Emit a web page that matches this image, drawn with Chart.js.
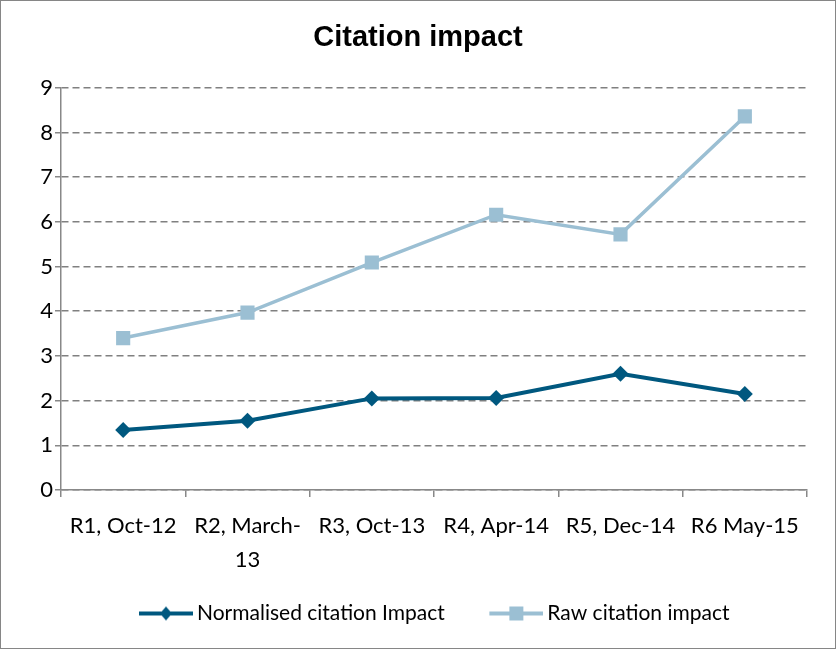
<!DOCTYPE html>
<html>
<head>
<meta charset="utf-8">
<script src="https://cdn.jsdelivr.net/npm/chart.js@4.4.1/dist/chart.umd.min.js"></script>
<style>
  html, body { margin: 0; padding: 0; background: #fff; }
  #wrap { width: 836px; height: 649px; position: relative; }
</style>
</head>
<body>
<div id="wrap"><canvas id="chart" width="836" height="649"></canvas></div>
<script>
var categories = ["R1, Oct-12", ["R2, March-", "13"], "R3, Oct-13", "R4, Apr-14", "R5, Dec-14", "R6 May-15"];
var normalised = [1.34, 1.55, 2.05, 2.06, 2.60, 2.15];
var raw = [3.40, 3.97, 5.09, 6.16, 5.72, 8.36];
var yTicks = [0, 1, 2, 3, 4, 5, 6, 7, 8, 9];

var darkBlue = "#00587F";
var lightBlue = "#9BBFD3";

// legend swatch: short line with the marker, sitting at the right end of a
// wider transparent image so the legend items get more room between them
function swatch(color, shape) {
	var c = document.createElement("canvas");
	c.width = 93; c.height = 16;
	var g = c.getContext("2d");
	g.strokeStyle = color;
	g.lineWidth = 4;
	g.beginPath(); g.moveTo(39, 8); g.lineTo(93, 8); g.stroke();
	g.fillStyle = color;
	if (shape === "diamond") {
		g.beginPath(); g.moveTo(66, 1); g.lineTo(72, 8); g.lineTo(66, 15); g.lineTo(60, 8); g.closePath(); g.fill();
	} else {
		g.fillRect(59, 1, 14, 14);
	}
	return c;
}

var frame = {
	id: "frame",
	beforeDraw: function (chart) {
		var ctx = chart.ctx;
		ctx.save();
		ctx.fillStyle = "#fff";
		ctx.fillRect(0, 0, chart.width, chart.height);
		ctx.restore();
	},
	afterDraw: function (chart) {
		var ctx = chart.ctx;
		ctx.save();
		ctx.strokeStyle = "#868686";
		ctx.lineWidth = 1;
		ctx.strokeRect(0.5, 0.5, chart.width - 1, chart.height - 1);
		ctx.restore();
	}
};

var ctx = document.getElementById("chart");

var chart = new Chart(ctx, {
	type: "line",
	data: {
		labels: categories,
		datasets: [
			{
				label: "Normalised citation Impact",
				data: normalised,
				borderColor: darkBlue,
				backgroundColor: darkBlue,
				borderWidth: 4,
				pointStyle: "rectRot",
				pointRadius: 8,
				pointBorderWidth: 0,
				tension: 0
			},
			{
				label: "Raw citation impact",
				data: raw,
				borderColor: lightBlue,
				backgroundColor: lightBlue,
				borderWidth: 3.5,
				pointStyle: "rect",
				pointRadius: 10,
				pointBorderWidth: 0,
				tension: 0
			}
		]
	},
	options: {
		responsive: false,
		animation: false,
		layout: { padding: { left: 0, right: 0, top: 0, bottom: 15 } },
		plugins: {
			title: {
				display: true,
				text: "Citation impact",
				font: { family: "Liberation Sans", size: 29, weight: "bold" },
				color: "#000",
				padding: { top: 21, bottom: 32 }
			},
			legend: {
				display: true,
				position: "bottom",
				labels: {
					usePointStyle: true,
					pointStyleWidth: 80,
					padding: 12,
					color: "#000",
					font: { family: "Lato", size: 21 },
					generateLabels: function (ch) {
						return [
							{ text: "Normalised citation Impact", pointStyle: swatch(darkBlue, "diamond"), datasetIndex: 0, fontColor: "#000", lineWidth: 0, strokeStyle: darkBlue, fillStyle: darkBlue },
							{ text: "Raw citation impact", pointStyle: swatch(lightBlue, "square"), datasetIndex: 1, fontColor: "#000", lineWidth: 0, strokeStyle: lightBlue, fillStyle: lightBlue }
						];
					}
				}
			},
			tooltip: { enabled: false }
		},
		scales: {
			x: {
				offset: true,
				grid: { display: true, drawOnChartArea: false, offset: true, tickLength: 7, color: "#888", lineWidth: 1.5 },
				border: { display: true, color: "#888", width: 1.5 },
				ticks: {
					color: "#000",
					font: { family: "Lato", size: 22, lineHeight: 1.55 },
					padding: 12,
					maxRotation: 0,
					autoSkip: false
				},
				afterFit: function (scale) { scale.height = 101; }
			},
			y: {
				min: 0,
				max: 9,
				afterBuildTicks: function (scale) {
					scale.ticks = yTicks.map(function (v) { return { value: v }; });
				},
				grid: {
					color: "#808080",
					lineWidth: 1.5,
					tickLength: 6,
					tickColor: "#888",
					tickWidth: 1.5
				},
				border: { display: true, color: "#888", width: 1.5, dash: [7, 4] },
				ticks: {
					color: "#000",
					font: { family: "Lato", size: 22 },
					padding: 2
				},
				afterFit: function (scale) { scale.width = 61; }
			},
			// empty right-hand axis, only reserves the margin right of the plot
			yRight: {
				position: "right",
				display: true,
				min: 0,
				max: 9,
				grid: { display: false, drawOnChartArea: false },
				border: { display: false },
				ticks: { display: false },
				afterFit: function (scale) { scale.width = 29; }
			}
		}
	},
	plugins: [frame]
});
</script>
</body>
</html>
